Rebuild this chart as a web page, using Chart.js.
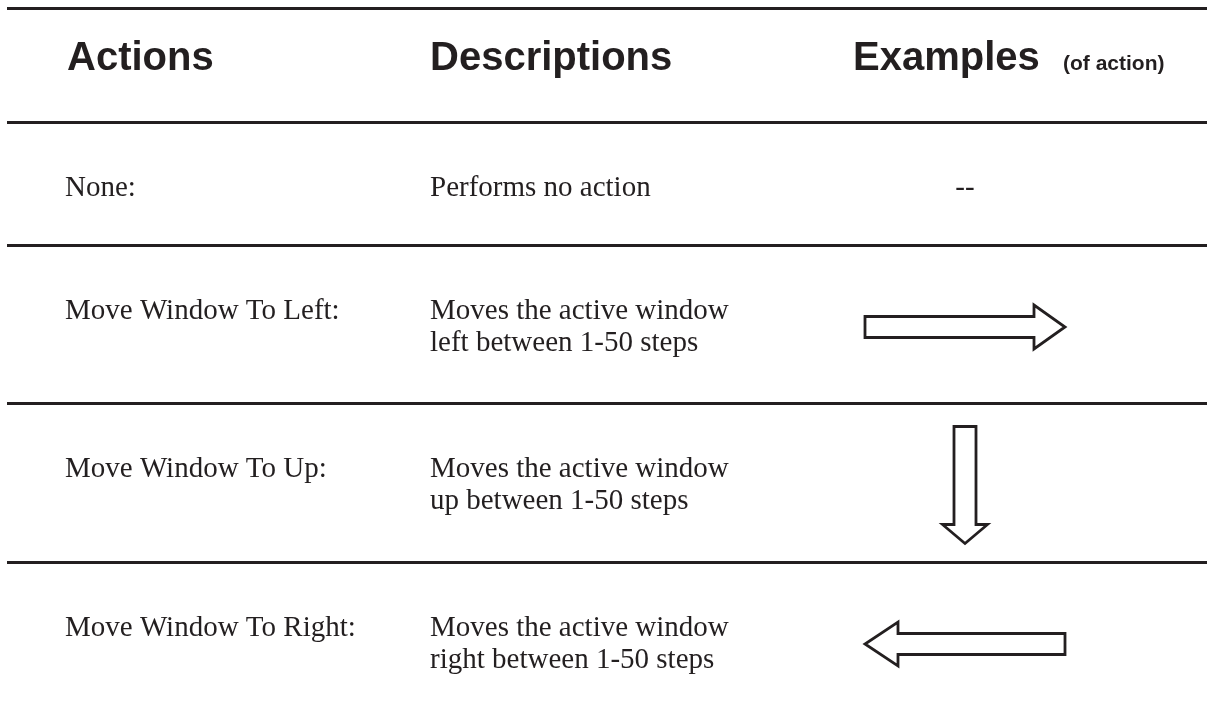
<!DOCTYPE html>
<html>
<head>
<meta charset="utf-8">
<script src="https://cdn.jsdelivr.net/npm/chart.js@4/dist/chart.umd.min.js"></script>
<style>
  html, body { margin: 0; padding: 0; background: #fff; }
  #wrap { width: 1207px; height: 715px; }
</style>
</head>
<body>
<div id="wrap"><canvas id="tableChart"></canvas></div>
<script>
// contenu du tableau
const headers = ['Actions', 'Descriptions', 'Examples'];
const headerNote = '(of action)';
const actions = ['None:', 'Move Window To Left:', 'Move Window To Up:', 'Move Window To Right:'];
const descriptions = [
  ['Performs no action'],
  ['Moves the active window', 'left between 1-50 steps'],
  ['Moves the active window', 'up between 1-50 steps'],
  ['Moves the active window', 'right between 1-50 steps'],
];
const examples = ['--', 'right', 'down', 'left']; // sens de la flèche

// mise en page (pixels = unités des axes)
const rowTops = [8, 122, 245, 403, 562, 715];
const colX = [65, 430, 965];
const lineGap = 32;
const ink = '#231f20';

// dimensions des flèches
const arrowStyle = {
  right: { len: 200, head: 31, shaft: 10.5, half: 22 },
  left:  { len: 200, head: 33, shaft: 10.5, half: 22 },
  down:  { len: 117, head: 19, shaft: 11, half: 22.5 },
};

function arrowPoints(dir, cx, cy) {
  const s = arrowStyle[dir];
  const a = s.len / 2;
  // flèche vers la droite, puis rotation
  const base = [
    [-a, -s.shaft], [a - s.head, -s.shaft], [a - s.head, -s.half], [a, 0],
    [a - s.head, s.half], [a - s.head, s.shaft], [-a, s.shaft], [-a, -s.shaft], [a - s.head, -s.shaft],
  ];
  return base.map(([u, v]) => {
    if (dir === 'left') return { x: cx - u, y: cy + v };
    if (dir === 'down') return { x: cx - v, y: cy + u };
    return { x: cx + u, y: cy + v };
  });
}

const datasets = [];
examples.forEach((ex, i) => {
  if (!arrowStyle[ex]) return;
  const top = rowTops[i + 1];
  const cy = top + 66 + lineGap / 2;
  datasets.push({
    label: ex,
    data: arrowPoints(ex, colX[2], cy),
    showLine: true,
    borderColor: ink,
    borderWidth: 2.8,
    borderJoinStyle: 'miter',
    pointRadius: 0,
    tension: 0,
    fill: false,
  });
});

// Texte du tableau
const tableText = {
  id: 'tableText',
  afterDraw(chart) {
    const ctx = chart.ctx;
    const x = chart.scales.x, y = chart.scales.y;
    ctx.save();
    ctx.fillStyle = ink;
    ctx.textBaseline = 'middle';
    ctx.textAlign = 'left';

    // en-têtes
    const hy = y.getPixelForValue(rowTops[0] + 51);
    ctx.font = 'bold 40px "Liberation Sans", Arial, sans-serif';
    ctx.fillText(headers[0], x.getPixelForValue(67), hy);
    ctx.fillText(headers[1], x.getPixelForValue(colX[1]), hy);
    ctx.fillText(headers[2], x.getPixelForValue(853), hy);
    ctx.font = 'bold 21px "Liberation Sans", Arial, sans-serif';
    ctx.fillText(headerNote, x.getPixelForValue(1063), hy + 5);

    // lignes
    ctx.font = '29px "Liberation Serif", "Times New Roman", serif';
    actions.forEach((a, i) => {
      const ly = rowTops[i + 1] + 66;
      ctx.textAlign = 'left';
      ctx.fillText(a, x.getPixelForValue(colX[0]), y.getPixelForValue(ly));
      descriptions[i].forEach((d, j) => {
        ctx.fillText(d, x.getPixelForValue(colX[1]), y.getPixelForValue(ly + j * lineGap));
      });
      if (!arrowStyle[examples[i]]) {
        ctx.textAlign = 'center';
        ctx.fillText(examples[i], x.getPixelForValue(colX[2]), y.getPixelForValue(ly));
      }
    });
    ctx.restore();
  },
};

const tableChart = new Chart(document.getElementById('tableChart'), {
  type: 'scatter',
  data: { datasets: datasets },
  options: {
    responsive: true,
    maintainAspectRatio: false,
    animation: false,
    layout: { padding: { left: 7, right: 0, top: 0, bottom: 0 } },
    plugins: { legend: { display: false }, tooltip: { enabled: false } },
    scales: {
      x: { type: 'linear', min: 7, max: 1207, display: false },
      y: {
        type: 'linear',
        min: 0,
        max: 715,
        reverse: true,
        afterBuildTicks: (axis) => {
          axis.ticks = rowTops.slice(0, 5).map(v => ({ value: v }));
        },
        ticks: { display: false },
        grid: { color: ink, lineWidth: 3, drawTicks: false },
        border: { display: false },
      },
    },
  },
  plugins: [tableText],
});
</script>
</body>
</html>
